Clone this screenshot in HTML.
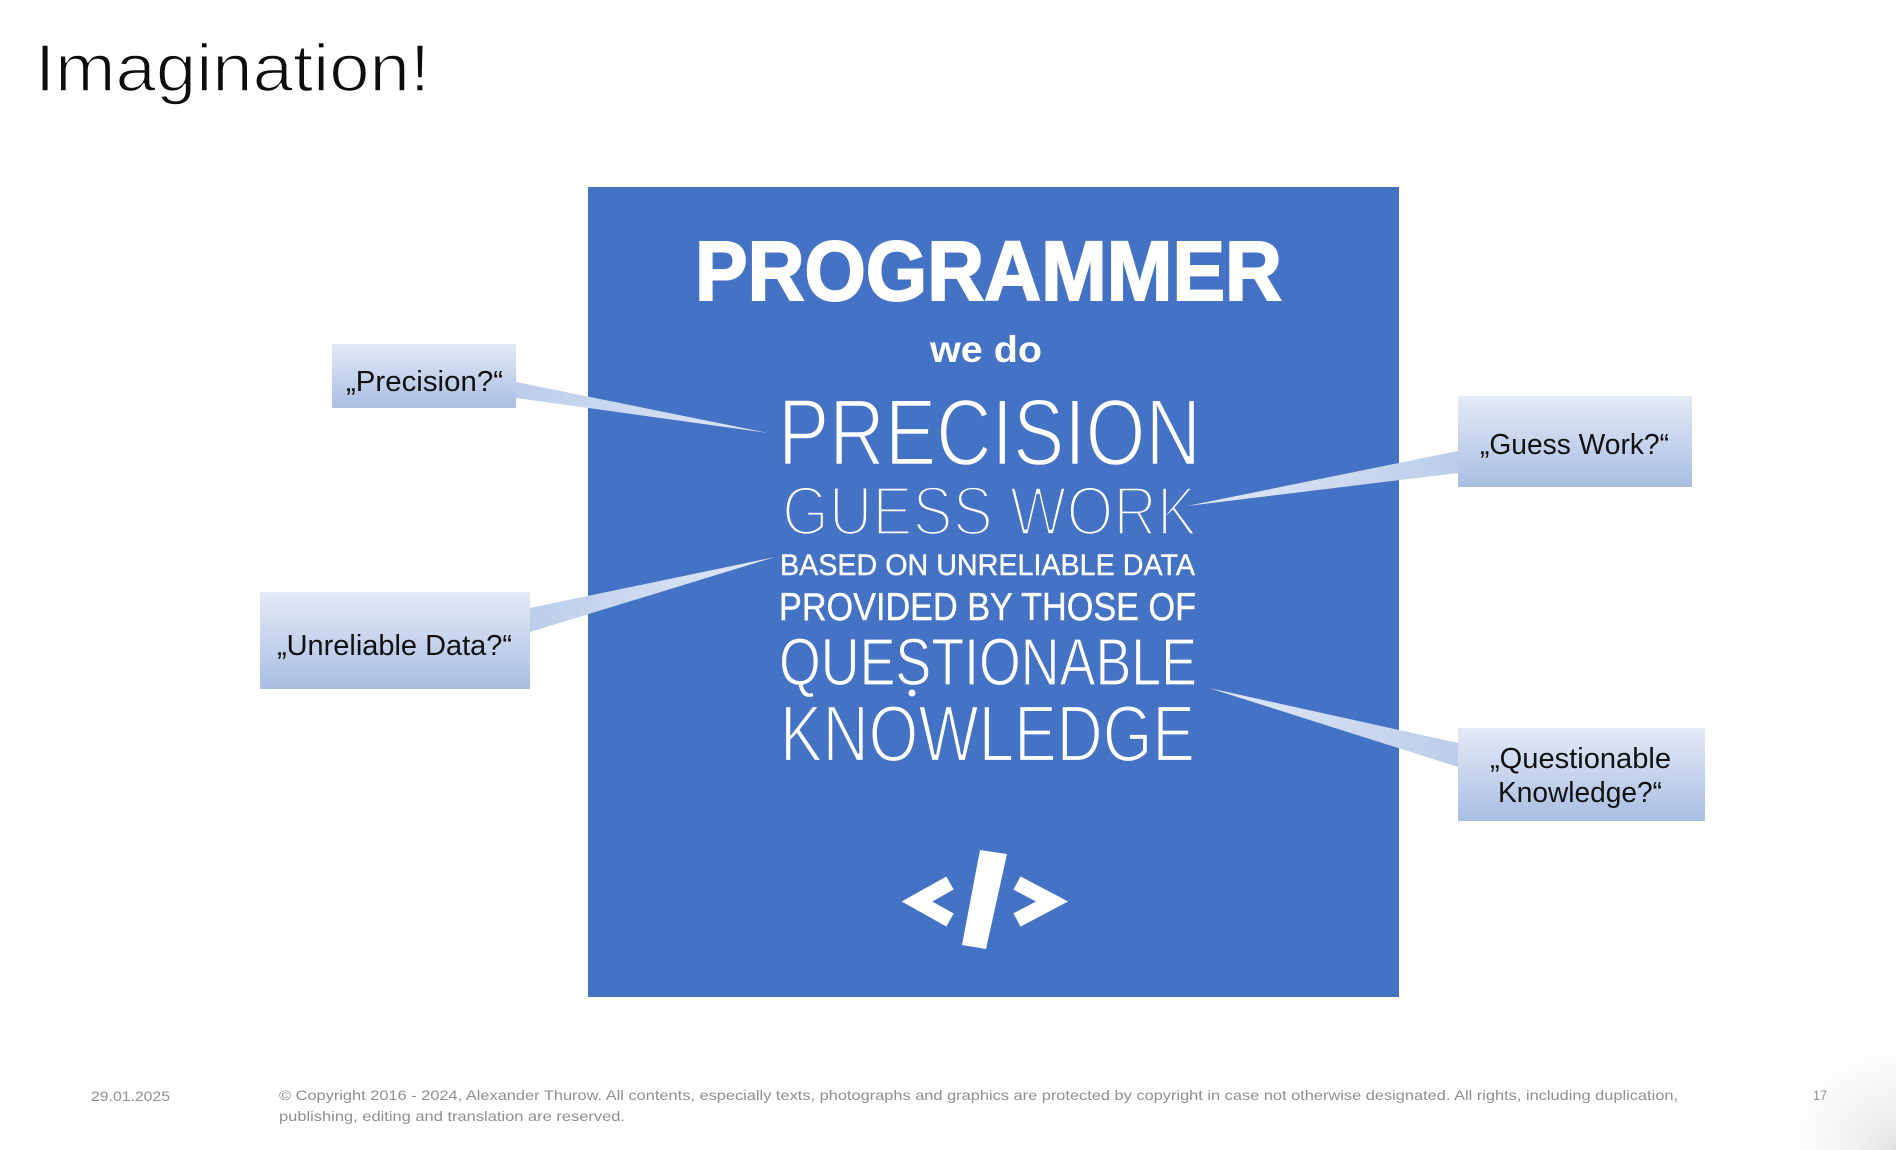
<!DOCTYPE html>
<html>
<head>
<meta charset="utf-8">
<style>
  html,body{margin:0;padding:0;background:#fff;}
  body{width:1896px;height:1150px;overflow:hidden;}
  svg{display:block;}
  text{font-family:"Liberation Sans", Arial, sans-serif;}
</style>
</head>
<body>
<svg width="1896" height="1150" viewBox="0 0 1896 1150" xmlns="http://www.w3.org/2000/svg">
  <defs>
    <linearGradient id="boxg" x1="0" y1="0" x2="0" y2="1">
      <stop offset="0" stop-color="#e4eaf6"/>
      <stop offset="1" stop-color="#a9bee3"/>
    </linearGradient>
    <linearGradient id="w1" gradientUnits="userSpaceOnUse" x1="516" y1="390" x2="768" y2="433">
      <stop offset="0" stop-color="#bccdea"/>
      <stop offset="1" stop-color="#e2e9f6"/>
    </linearGradient>
    <linearGradient id="w2" gradientUnits="userSpaceOnUse" x1="530" y1="620" x2="775" y2="557">
      <stop offset="0" stop-color="#bccdea"/>
      <stop offset="1" stop-color="#e2e9f6"/>
    </linearGradient>
    <linearGradient id="w3" gradientUnits="userSpaceOnUse" x1="1458" y1="462" x2="1187" y2="506">
      <stop offset="0" stop-color="#bccdea"/>
      <stop offset="1" stop-color="#e2e9f6"/>
    </linearGradient>
    <linearGradient id="w4" gradientUnits="userSpaceOnUse" x1="1458" y1="755" x2="1209" y2="688">
      <stop offset="0" stop-color="#bccdea"/>
      <stop offset="1" stop-color="#e2e9f6"/>
    </linearGradient>
    <radialGradient id="corner" gradientUnits="userSpaceOnUse" cx="1896" cy="1150" r="140">
      <stop offset="0" stop-color="#e2e2e2"/>
      <stop offset="1" stop-color="#ffffff" stop-opacity="0"/>
    </radialGradient>
  </defs>

  <rect x="0" y="0" width="1896" height="1150" fill="#ffffff"/>
  <rect x="1700" y="1000" width="196" height="150" fill="url(#corner)"/>

  <!-- Title -->
  <text x="35" y="91" font-size="67" fill="#0d0d0d" stroke="#ffffff" stroke-width="1.6" textLength="395" lengthAdjust="spacingAndGlyphs">Imagination!</text>

  <!-- Blue poster -->
  <rect x="588" y="187" width="811" height="810" fill="#4472c4"/>

  <text x="695" y="300" font-size="84" font-weight="bold" fill="#fff" stroke="#fff" stroke-width="2" textLength="587" lengthAdjust="spacingAndGlyphs">PROGRAMMER</text>
  <text x="930" y="362" font-size="37" font-weight="bold" fill="#fff" textLength="112" lengthAdjust="spacingAndGlyphs">we do</text>
  <text x="778" y="465" font-size="95" fill="#fff" stroke="#4472c4" stroke-width="2.4" textLength="423" lengthAdjust="spacingAndGlyphs">PRECISION</text>
  <text x="782" y="535" font-size="70" fill="#fff" stroke="#4472c4" stroke-width="3.6" textLength="415" lengthAdjust="spacingAndGlyphs">GUESS WORK</text>
  <text x="780" y="575" font-size="30" fill="#fff" stroke="#fff" stroke-width="0.4" textLength="415" lengthAdjust="spacingAndGlyphs">BASED ON UNRELIABLE DATA</text>
  <text x="779" y="620" font-size="39" fill="#fff" stroke="#fff" stroke-width="0.4" textLength="417" lengthAdjust="spacingAndGlyphs">PROVIDED BY THOSE OF</text>
  <text x="779" y="685" font-size="67" fill="#fff" stroke="#4472c4" stroke-width="1.2" textLength="418" lengthAdjust="spacingAndGlyphs">QUESTIONABLE</text>
  <circle cx="912" cy="693" r="3.5" fill="#fff"/>
  <text x="780" y="761" font-size="80" fill="#fff" stroke="#4472c4" stroke-width="2.2" textLength="415" lengthAdjust="spacingAndGlyphs">KNOWLEDGE</text>

  <!-- </> icon -->
  <polyline points="950,883 917,901.5 950,920" fill="none" stroke="#fff" stroke-width="15" stroke-linejoin="miter" stroke-miterlimit="10"/>
  <polyline points="1017,883 1052,901.5 1017,920" fill="none" stroke="#fff" stroke-width="15" stroke-linejoin="miter" stroke-miterlimit="10"/>
  <polygon points="980,850 1007,854 986,949 962,945" fill="#fff"/>

  <!-- Callout wedges -->
  <polygon points="516,382 516,398 768,433" fill="url(#w1)"/>
  <polygon points="530,608 530,632 775,557" fill="url(#w2)"/>
  <polygon points="1458,451 1458,473 1187,506" fill="url(#w3)"/>
  <polygon points="1458,743 1458,767 1209,688" fill="url(#w4)"/>

  <!-- Callout boxes -->
  <rect x="332" y="344" width="184" height="64" fill="url(#boxg)"/>
  <text x="346" y="391" font-size="29" fill="#111" textLength="157" lengthAdjust="spacingAndGlyphs">„Precision?“</text>

  <rect x="260" y="592" width="270" height="97" fill="url(#boxg)"/>
  <text x="277" y="655" font-size="29" fill="#111" textLength="235" lengthAdjust="spacingAndGlyphs">„Unreliable Data?“</text>

  <rect x="1458" y="396" width="234" height="91" fill="url(#boxg)"/>
  <text x="1480" y="454" font-size="29" fill="#111" textLength="189" lengthAdjust="spacingAndGlyphs">„Guess Work?“</text>

  <rect x="1458" y="728" width="247" height="93" fill="url(#boxg)"/>
  <text x="1490" y="768" font-size="29" fill="#111" textLength="181" lengthAdjust="spacingAndGlyphs">„Questionable</text>
  <text x="1498" y="802" font-size="29" fill="#111" textLength="164" lengthAdjust="spacingAndGlyphs">Knowledge?“</text>

  <!-- Footer -->
  <text x="91" y="1101" font-size="14" fill="#8f8f8f" textLength="79" lengthAdjust="spacingAndGlyphs">29.01.2025</text>
  <text x="279" y="1100" font-size="14" fill="#8f8f8f" textLength="1399" lengthAdjust="spacingAndGlyphs">© Copyright 2016 - 2024, Alexander Thurow. All contents, especially texts, photographs and graphics are protected by copyright in case not otherwise designated. All rights, including duplication,</text>
  <text x="279" y="1121" font-size="14" fill="#8f8f8f" textLength="346" lengthAdjust="spacingAndGlyphs">publishing, editing and translation are reserved.</text>
  <text x="1813" y="1100" font-size="14" fill="#8f8f8f" textLength="14" lengthAdjust="spacingAndGlyphs">17</text>
</svg>
</body>
</html>
